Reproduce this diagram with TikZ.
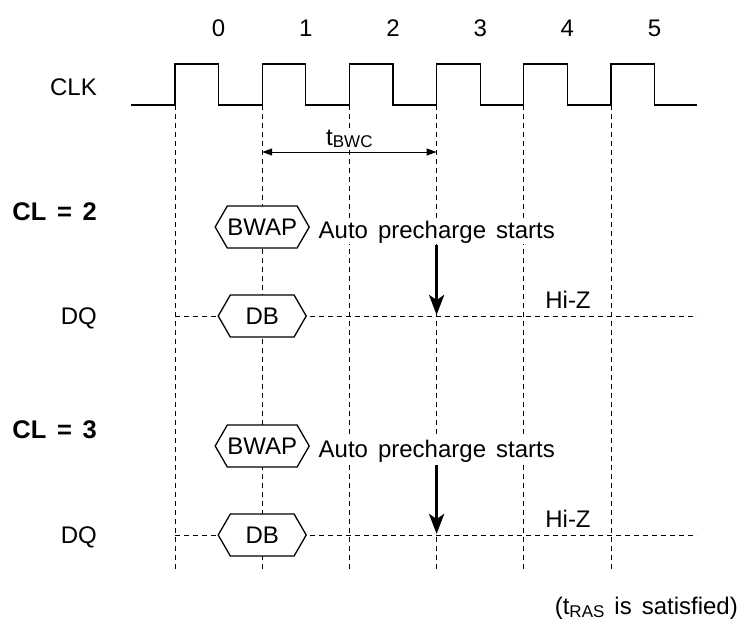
\documentclass[tikz,border=0pt]{standalone}
\usepackage{fontspec}
\setmainfont{Liberation Sans}[WordSpace=1.5]
\usetikzlibrary{arrows.meta,shapes.symbols}
\begin{document}
\begin{tikzpicture}[x=1pt,y=-1pt,
  txt/.style={font=\fontsize{24}{27}\selectfont, inner sep=0pt},
  boldtxt/.style={font=\fontsize{25.5}{28}\selectfont\bfseries, inner sep=0pt},
  gridline/.style={dash pattern=on 5pt off 4pt, line width=0.9pt},
  sigline/.style={line width=1.3pt},
  hexbox/.style={signal, signal to=west and east, draw, fill=white, line width=1.3pt,
    minimum width=88pt, minimum height=42pt, signal pointer angle=120, inner sep=0pt,
    font=\fontsize{24}{27}\selectfont},
  bigarrow/.style={line width=3.5pt, -{Stealth[length=20pt,width=15pt,inset=5pt]}},
  dimarrow/.style={line width=1pt, {Triangle[length=10pt,width=7pt]}-{Triangle[length=10pt,width=7pt]}},
  whitebg/.style={fill=white, inner sep=1.5pt}
]
\useasboundingbox (0,0) rectangle (751,627);

% vertical grid lines
\foreach \i in {0,...,5}{
  \coordinate (vt\i) at ({175+87.2*\i},105);
  \coordinate (vb\i) at ({175+87.2*\i},572);
  \draw[gridline] (vt\i) -- (vb\i);
}

% clock
\coordinate (clkstart) at (131,105);
\coordinate (clkend) at (697,105);
\draw[sigline] (clkstart)
  foreach \i in {0,...,5}{ -- ({175+87.2*\i},105) -- ({175+87.2*\i},64) -- ({218.6+87.2*\i},64) -- ({218.6+87.2*\i},105)}
  -- (clkend);
\foreach \i in {0,...,5}{
  \node[txt, anchor=base] (n\i) at ({218.6+87.2*\i},36) {\i};
}
\node[txt, anchor=base east] (clk) at (97,95) {CLK};

% tBWC
\coordinate (b1) at (262.2,152);
\coordinate (b3) at (436.6,152);
\draw[dimarrow] (b1) -- (b3);
\node[txt, whitebg, anchor=base] (tbwc) at (349.4,145) {t\raisebox{-2pt}{\fontsize{17}{18}\selectfont BWC}};

% CL = 2 block
\node[boldtxt, anchor=base east] (cl2) at (97,220) {CL = 2};
\node[hexbox] (bwap1) at (262.2,227) {BWAP};
\node[txt, whitebg, anchor=base west] (apc1) at (317,238) {Auto precharge starts};
\coordinate (dq1s) at (175,316);
\coordinate (dq1e) at (697,316);
\draw[gridline] (dq1s) -- (dq1e);
\node[txt, anchor=base east] (dq1) at (97,324) {DQ};
\node[hexbox] (db1) at (262.2,316) {DB};
\coordinate (a1s) at (436.6,245);
\coordinate (a1e) at (436.6,315);
\draw[bigarrow] (a1s) -- (a1e);
\node[txt, anchor=base] (hz1) at (568,308) {Hi-Z};

% CL = 3 block
\node[boldtxt, anchor=base east] (cl3) at (97,438) {CL = 3};
\node[hexbox] (bwap2) at (262.2,446) {BWAP};
\node[txt, whitebg, anchor=base west] (apc2) at (317,457) {Auto precharge starts};
\coordinate (dq2s) at (175,535);
\coordinate (dq2e) at (697,535);
\draw[gridline] (dq2s) -- (dq2e);
\node[txt, anchor=base east] (dq2) at (97,543) {DQ};
\node[hexbox] (db2) at (262.2,535) {DB};
\coordinate (a2s) at (436.6,465);
\coordinate (a2e) at (436.6,534);
\draw[bigarrow] (a2s) -- (a2e);
\node[txt, anchor=base] (hz2) at (568,527) {Hi-Z};

% note
\node[txt, anchor=base east] (tras) at (738,614) {(t\raisebox{-3pt}{\fontsize{17}{18}\selectfont RAS} is satisfied)};
\end{tikzpicture}
\end{document}
